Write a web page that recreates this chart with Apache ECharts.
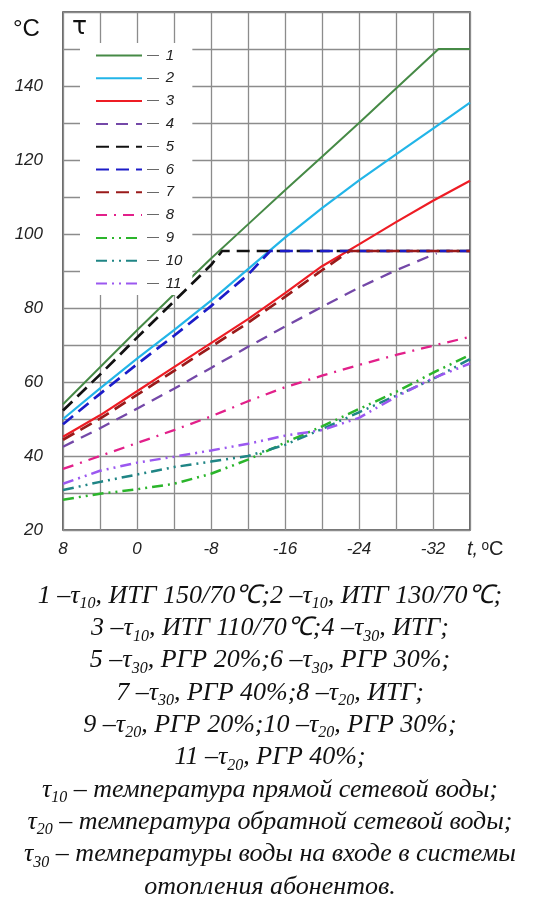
<!DOCTYPE html>
<html><head><meta charset="utf-8">
<script src="https://cdn.jsdelivr.net/npm/echarts@6/dist/echarts.min.js"></script>
<style>html,body{margin:0;padding:0;background:#fff}#c{width:533px;height:901px}</style>
</head><body><div id="c"></div>
<script>
// outdoor temperature, °C
const T = [8, 4, 0, -4, -8, -12, -16, -20, -24, -28, -32, -36];
// 1 – τ10, ИТГ 150/70
const s1T = [8, 4, 0, -4, -8, -12, -16, -20, -24, -28, -32.6, -36];
const s1V = [54, 64, 74, 83.7, 93.4, 102.6, 111.8, 120.9, 130, 139.3, 150, 150];
// 2 – τ10, ИТГ 130/70
const s2V = [50, 58.3, 66.3, 74, 82, 90.5, 99, 107, 114.5, 121.5, 128.5, 135.5];
// 3 – τ10, ИТГ 110/70
const s3V = [45.2, 51, 57.5, 64, 70.5, 77, 84, 91.3, 97.2, 103.2, 109, 114.4];
// 4 – τ30, ИТГ
const s4T = [8, 4, 0, -4, -8, -12, -16, -20, -24, -28, -32.4];
const s4V = [42.5, 47.5, 52.8, 58.2, 63.8, 69.5, 75, 80.3, 85.5, 90.2, 94.8];
// 5 – τ30, РГР 20%
const s5T = [8, 4, 0, -4, -8, -9.2, -36];
const s5V = [52.3, 62, 72, 81.8, 91.6, 95.4, 95.4];
// 6 – τ30, РГР 30%
const s6T = [8, 4, 0, -4, -8, -12, -14.4, -36];
const s6V = [48.6, 56.8, 64.8, 72.5, 80.5, 89, 95.4, 95.4];
// 7 – τ30, РГР 40%
const s7T = [8, 4, 0, -4, -8, -12, -16, -20, -23, -36];
const s7V = [44.4, 50.1, 56.5, 63, 69.5, 76, 83, 90.2, 95.4, 95.4];
// 8 – τ20, ИТГ
const s8V = [36.5, 40, 43.5, 47, 50.7, 54.8, 58.6, 61.7, 64.6, 67.3, 69.8, 72.2];
// 9 – τ20, РГР 20%
const s9V = [28.2, 29.8, 31, 32.5, 35.2, 39, 43.6, 48, 52.7, 57.3, 62.5, 67.3];
// 10 – τ20, РГР 30%
const s10V = [30.8, 33, 35, 37, 38.5, 40, 43, 47.3, 51.8, 56.3, 60.8, 66.2];
// 11 – τ20, РГР 40%
const s11V = [32.5, 36, 38.2, 39.8, 41.5, 43.3, 45.5, 47, 50.3, 56, 61, 65];

const names = ['1','2','3','4','5','6','7','8','9','10','11'];
const xTickStep = 8;
const yTickStep = 20;

const captionLines = [
  '1 –{t|τ}{s|10}, ИТГ 150/70℃;2 –{t|τ}{s|10}, ИТГ 130/70℃;',
  '3 –{t|τ}{s|10}, ИТГ 110/70℃;4 –{t|τ}{s|30}, ИТГ;',
  '5 –{t|τ}{s|30}, РГР 20%;6 –{t|τ}{s|30}, РГР 30%;',
  '7 –{t|τ}{s|30}, РГР 40%;8 –{t|τ}{s|20}, ИТГ;',
  '9 –{t|τ}{s|20}, РГР 20%;10 –{t|τ}{s|20}, РГР 30%;',
  '11 –{t|τ}{s|20}, РГР 40%;',
  '{t|τ}{s|10} – температура прямой сетевой воды;',
  '{t|τ}{s|20} – температура обратной сетевой воды;',
  '{t|τ}{s|30} – температуры воды на входе в системы',
  'отопления абонентов.'
];

const zip = (xs, ys) => xs.map((x, i) => [x, ys[i]]);

const chart = echarts.init(document.getElementById('c'), null, {renderer: 'canvas'});

const mk = (name, xs, ys, color, width, type, z) => ({
  name, type: 'line', data: zip(xs, ys), symbol: 'none', smooth: false,
  lineStyle: {color, width, type}, itemStyle: {color}, z: z || 2
});

const dash = [13, 7];
const dashDot = [11, 7, 2, 7];
const dashDotDot = [11, 5, 2, 5, 2, 5];

const series = [
  mk('1', s1T, s1V, '#468a46', 2, 'solid', 2),
  mk('2', T, s2V, '#22b5e8', 2.2, 'solid', 2),
  mk('3', T, s3V, '#ee1c24', 2.2, 'solid', 2),
  mk('4', s4T, s4V, '#7448a8', 2.3, [12, 8], 3),
  mk('5', s5T, s5V, '#111111', 2.7, dash, 4),
  mk('6', s6T, s6V, '#1c1cc8', 2.7, dash, 4),
  mk('7', s7T, s7V, '#9a1a1a', 2.7, dash, 4),
  mk('8', T, s8V, '#e2208a', 2.3, dashDot, 3),
  mk('9', T, s9V, '#2bb52b', 2.5, dashDotDot, 3),
  mk('10', T, s10V, '#1f8585', 2.5, dashDotDot, 3),
  mk('11', T, s11V, '#9b58f0', 2.5, dashDotDot, 3)
];

const tickFont = {fontStyle: 'italic', fontSize: 17, color: '#222', fontFamily: 'Liberation Sans, Arial'};

const graphics = [
  {type: 'text', left: 13, top: 17, style: {text: '°C', fontSize: 24, fontFamily: 'Liberation Sans, Arial', fill: '#111'}},
  {type: 'text', left: 72, top: 15, style: {text: 'τ', fontSize: 25, fontFamily: 'DejaVu Sans', fill: '#111'}, z: 10},
  {type: 'text', left: 467, top: 539, style: {
    text: '{i|t,} {n|ᵒC}', rich: {
      i: {fontStyle: 'italic', fontSize: 20, fontFamily: 'Liberation Sans', fill: '#222'},
      n: {fontSize: 20, fontFamily: 'Liberation Sans', fill: '#222'}
    }}}
];
captionLines.forEach((line, i) => {
  graphics.push({
    type: 'text', x: 270, y: 596 + 32.3 * i,
    style: {
      text: line, align: 'center', verticalAlign: 'middle',
      fontSize: 26, fontStyle: 'italic', fontFamily: 'Liberation Serif, Times New Roman', fill: '#111',
      rich: {
        t: {fontSize: 26, fontStyle: 'italic', fontFamily: 'Liberation Serif', fill: '#111', lineHeight: 32, verticalAlign: 'middle'},
        s: {fontSize: 16, fontStyle: 'italic', fontFamily: 'Liberation Serif', fill: '#111', lineHeight: 14, verticalAlign: 'bottom'}
      }
    }
  });
});

chart.setOption({
  animation: false,
  backgroundColor: '#fff',
  grid: {left: 63, right: 63, top: 12, bottom: 371, show: true, borderColor: '#444', borderWidth: 1.6, backgroundColor: 'transparent'},
  xAxis: {
    type: 'value', inverse: true, min: -36, max: 8, interval: 4,
    axisLine: {show: false}, axisTick: {show: false},
    splitLine: {show: true, lineStyle: {color: '#8c8c8c', width: 1.3}},
    axisLabel: Object.assign({formatter: v => (v % xTickStep === 0 ? String(v === 0 ? 0 : v) : ''), margin: 11, showMinLabel: true, showMaxLabel: true}, tickFont)
  },
  yAxis: {
    type: 'value', min: 20, max: 160, interval: 10,
    axisLine: {show: false}, axisTick: {show: false},
    splitLine: {show: true, lineStyle: {color: '#8c8c8c', width: 1.3}},
    axisLabel: Object.assign({formatter: v => (v % yTickStep === 0 && v < 160 ? String(v) : ''), margin: 20}, tickFont)
  },
  legend: {
    orient: 'vertical', left: 80, top: 43, padding: [5, 10, 4, 15],
    backgroundColor: '#fff', itemWidth: 46, itemHeight: 12, itemGap: 7.8,
    data: names, selectedMode: false,
    itemStyle: {opacity: 0},
    formatter: n => '{d|—}  {n|' + n + '}',
    textStyle: {rich: {
      d: {color: '#555', fontSize: 12, fontFamily: 'Liberation Sans'},
      n: {fontStyle: 'italic', fontSize: 15, color: '#222', fontFamily: 'Liberation Sans'}
    }}
  },
  graphic: graphics,
  series
});
</script>
</body></html>
